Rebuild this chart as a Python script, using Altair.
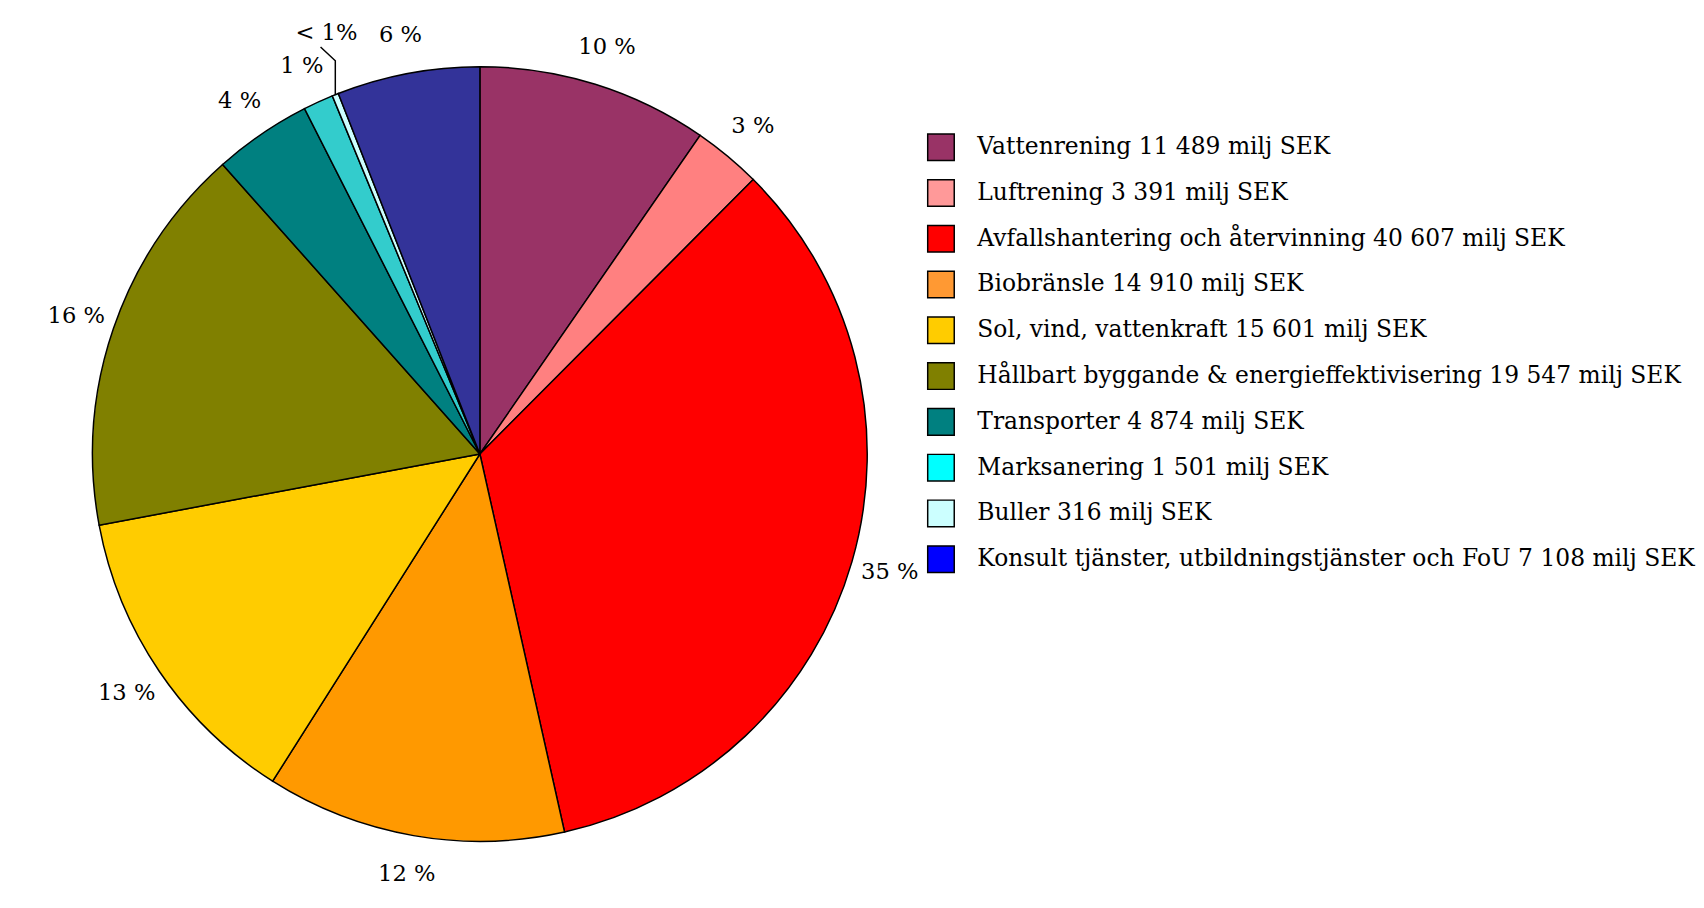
import altair as alt
import pandas as pd
import numpy as np

categories = [
    "Vattenrening",
    "Luftrening",
    "Avfallshantering och återvinning",
    "Biobränsle",
    "Sol, vind, vattenkraft",
    "Hållbart byggande & energieffektivisering",
    "Transporter",
    "Marksanering",
    "Buller",
    "Konsult tjänster, utbildningstjänster och FoU",
]
values = [11489, 3391, 40607, 14910, 15601, 19547, 4874, 1501, 316, 7108]
value_texts = ["11 489", "3 391", "40 607", "14 910", "15 601", "19 547", "4 874", "1 501", "316", "7 108"]
pct_labels = ["10 %", "3 %", "35 %", "12 %", "13 %", "16 %", "4 %", "1 %", "< 1%", "6 %"]
pie_colors = ["#993366", "#FF8080", "#FF0000", "#FF9900", "#FFCC00",
              "#808000", "#008080", "#33CCCC", "#CCFFFF", "#333399"]
legend_colors = ["#993366", "#FF9999", "#FF0000", "#FF9933", "#FFCC00",
                 "#808000", "#008080", "#00FFFF", "#CCFFFF", "#0000FF"]
small_slice = "Buller"

FONT = "DejaVu Serif"
R = 394
CX, CY = 480, 446

df = pd.DataFrame({
    "category": categories,
    "value": values,
    "order": list(range(len(categories))),
    "pct": pct_labels,
    "legend": [f"{c} {v} milj SEK" for c, v in zip(categories, value_texts)],
})
df["outside"] = [("" if c == small_slice else p) for c, p in zip(categories, pct_labels)]

# leader line for the tiny slice, derived from its mid-angle
cum = np.cumsum(values)
total = cum[-1]
i = categories.index(small_slice)
mid = (cum[i] - values[i] / 2) / total * 2 * np.pi
px = CX + R * np.sin(mid)
py = CY - R * np.cos(mid)
top = CY - R - 6
leader_df = pd.DataFrame({
    "x": [px, px, px - 15],
    "y": [py, top, top - 14],
    "k": [0, 1, 2],
})
small_df = pd.DataFrame({"x": [px - 9], "y": [top - 28], "t": [pct_labels[i]]})

base = alt.Chart(df).encode(
    theta=alt.Theta("value:Q", stack=True),
    order=alt.Order("order:Q"),
)
arcs = base.mark_arc(outerRadius=R, stroke="black", strokeWidth=1.5).encode(
    color=alt.Color("category:N", scale=alt.Scale(domain=categories, range=pie_colors), legend=None),
    x=alt.value(CX), y=alt.value(CY),
)
labels = base.mark_text(radius=R + 40, font=FONT, fontSize=23, color="black").encode(
    detail=alt.Detail("category:N"),
    text=alt.Text("outside:N"),
    x=alt.value(CX), y=alt.value(CY),
)
leader = alt.Chart(leader_df).mark_line(color="black", strokeWidth=1.5).encode(
    x=alt.X("x:Q", scale=None, axis=None),
    y=alt.Y("y:Q", scale=None, axis=None),
    order=alt.Order("k:Q"),
)
small_text = alt.Chart(small_df).mark_text(font=FONT, fontSize=23, color="black").encode(
    x=alt.X("x:Q", scale=None, axis=None),
    y=alt.Y("y:Q", scale=None, axis=None),
    text="t:N",
)
pie = alt.layer(arcs, labels, leader, small_text).properties(width=900, height=890)

ybase = alt.Y("category:N", sort=categories,
              scale=alt.Scale(type="point", range=[134, 553], padding=0), axis=None)
leg_sq = alt.Chart(df).mark_square(size=729, stroke="black", strokeWidth=1.5, opacity=1).encode(
    x=alt.value(49),
    y=ybase,
    color=alt.Color("category:N", scale=alt.Scale(domain=categories, range=legend_colors), legend=None),
)
leg_tx = alt.Chart(df).mark_text(font=FONT, fontSize=23.8, align="left", baseline="middle", color="black").encode(
    x=alt.value(86),
    y=ybase,
    text="legend:N",
)
legend = alt.layer(leg_sq, leg_tx).properties(width=788, height=890)

chart = alt.hconcat(pie, legend, spacing=0, bounds="flush").resolve_scale(color="independent").properties(
    padding=0
).configure_view(stroke=None)

chart.save("out.html", embed_options={"renderer": "svg", "actions": False})
